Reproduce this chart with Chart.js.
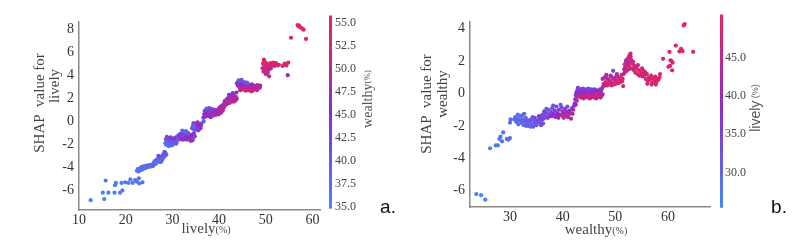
<!DOCTYPE html>
<html lang="en">
<head>
<meta charset="UTF-8" />
<title>SHAP dependence plots</title>
<script src="https://cdn.jsdelivr.net/npm/chart.js"></script>
<style>
  body { margin: 0; background: #fff; }
  .wrap { position: relative; width: 792px; height: 241px; }
  .panel { position: absolute; top: 0; width: 396px; height: 241px; }
</style>
</head>
<body>
<div class="wrap">
  <div class="panel" style="left:0"><canvas id="chartA" width="396" height="241"></canvas></div>
  <div class="panel" style="left:396px"><canvas id="chartB" width="396" height="241"></canvas></div>
</div>
<script>
// ---- panel a: lively (%) vs SHAP value, coloured by wealthy (%) ----
const aLively = [
  12.5,15.1,15.4,15.7,16.3,17.6,17.7,17.9,18.8,19.1,19.3,19.9,20.6,21.0,21.5,22.0,22.4,22.8,22.9,23.6,
  22.4,22.6,22.8,23.0,23.1,23.3,23.5,23.6,23.8,24.0,24.1,24.3,24.5,24.6,24.8,25.0,25.2,25.4,25.6,25.8,26.1,26.5,
  26.0,26.2,26.4,26.6,26.8,26.9,27.1,27.3,27.4,27.6,27.8,27.9,28.1,28.2,28.4,28.5,28.7,27.0,27.7,28.3,
  28.5,28.6,28.7,28.8,28.9,29.0,29.1,29.2,29.3,29.4,29.5,29.6,29.7,29.8,29.9,30.0,30.1,30.2,30.3,30.4,30.5,30.6,30.7,30.8,28.8,29.2,29.6,30.0,30.4,30.9,
  31.0,31.2,31.4,31.6,31.8,32.0,32.2,32.4,32.6,32.8,33.0,33.2,33.4,33.6,33.8,34.0,34.2,34.4,34.6,34.8,31.3,31.9,32.5,33.1,33.7,34.3,32.1,32.9,33.5,34.1,31.7,33.3,32.3,34.5,33.9,
  34.2,34.4,34.6,34.7,34.9,35.0,35.2,35.3,35.5,35.6,35.8,35.9,36.1,34.5,34.8,35.1,35.4,35.7,36.0,36.2,34.6,35.5,
  36.6,36.8,36.9,37.1,37.2,37.4,37.5,37.7,37.8,38.0,38.1,38.3,38.4,38.6,38.7,38.9,39.0,39.2,39.3,39.5,37.0,37.6,38.2,38.8,39.4,37.3,37.9,38.5,39.1,36.7,
  39.5,39.7,39.8,40.0,40.1,40.3,40.4,40.6,40.7,40.9,41.0,39.9,40.2,40.5,40.8,
  41.0,41.2,41.4,41.6,41.8,42.0,42.2,42.4,42.6,42.8,43.0,43.2,43.4,43.6,43.8,41.1,41.5,41.9,42.3,42.7,43.1,43.5,42.1,42.9,43.7,
  43.8,44.0,44.1,44.3,44.4,44.6,44.7,44.9,45.0,45.2,45.3,45.5,45.6,45.8,45.9,46.1,46.2,46.4,46.5,46.7,46.8,47.0,47.1,47.3,47.4,47.6,47.8,48.0,48.2,48.4,48.6,48.8,
  44.2,44.8,45.4,46.0,46.6,47.2,44.5,45.1,45.7,46.3,46.9,47.5,48.1,48.7,
  49.3,49.4,49.5,49.6,49.7,49.8,49.9,50.0,50.1,50.2,50.3,50.4,50.5,50.6,50.8,51.0,51.2,51.4,51.6,51.8,52.0,52.2,52.5,52.8,53.6,54.0,54.4,54.8,54.7,50.7,49.6,50.0,51.1,
  55.4,56.8,57.1,57.4,57.8,58.1,58.6,57.0
];
const aShap = [
  -6.85,-6.2,-6.75,-5.15,-6.2,-6.2,-5.55,-5.35,-6.2,-5.35,-6.0,-5.3,-5.35,-5.05,-5.35,-5.1,-5.25,-4.95,-5.4,-5.3,
  -4.3,-4.15,-4.35,-4.1,-4.25,-4.0,-4.2,-3.95,-4.05,-3.9,-4.1,-3.95,-3.85,-4.0,-3.9,-3.8,-3.95,-3.85,-3.75,-3.9,-3.7,-3.65,
  -3.6,-3.45,-3.7,-3.35,-3.5,-3.25,-3.4,-3.2,-3.55,-3.1,-3.3,-2.95,-3.15,-2.8,-3.0,-2.75,-2.9,-3.0,-3.45,-2.65,
  -1.9,-1.55,-2.05,-1.7,-1.85,-1.45,-2.0,-1.65,-1.8,-1.5,-1.95,-1.75,-1.6,-2.1,-1.7,-1.85,-1.55,-1.95,-1.75,-1.6,-1.9,-1.8,-1.7,-1.95,-1.35,-2.15,-1.4,-2.05,-1.45,-1.85,
  -1.3,-1.45,-1.2,-1.5,-1.25,-1.4,-1.15,-1.35,-1.5,-1.2,-1.3,-1.45,-1.1,-1.35,-1.25,-1.5,-1.15,-1.4,-1.05,-1.3,-1.6,-1.55,-1.0,-1.6,-1.55,-1.65,-0.8,-0.85,-1.4,-1.2,-1.1,-1.0,-1.6,-1.45,-1.7,
  -0.6,-0.4,-0.7,-0.3,-0.55,-0.2,-0.45,-0.65,-0.3,-0.5,-0.25,-0.55,-0.4,-0.15,-0.75,-0.35,-0.1,-0.7,-0.6,-0.2,-0.45,-0.8,
  0.3,0.6,0.9,0.5,0.8,0.65,1.0,0.55,0.85,0.7,1.05,0.5,0.9,0.75,0.6,0.95,0.7,0.85,0.55,0.9,0.4,0.45,0.35,0.5,0.65,1.1,1.15,1.05,1.0,0.0,
  0.75,1.0,0.65,1.15,0.85,1.25,0.95,1.35,1.1,1.4,1.2,0.6,0.7,0.8,0.95,
  1.5,1.75,1.6,1.9,1.7,2.05,1.85,2.2,1.95,2.35,2.05,2.25,1.9,2.1,1.95,1.3,1.45,1.55,1.6,1.75,1.7,1.8,2.3,2.45,2.5,
  3.3,3.1,3.45,3.2,2.95,3.35,3.1,3.25,2.9,3.15,3.3,2.85,3.2,3.05,2.8,3.25,3.0,3.15,2.75,3.1,2.9,3.2,3.0,2.8,3.1,2.95,3.05,2.9,3.15,3.0,2.95,3.1,
  3.55,3.6,3.4,3.35,2.7,2.65,2.7,2.75,2.65,2.7,2.6,2.85,2.7,2.9,
  4.6,5.0,4.3,5.3,4.8,4.5,5.1,4.7,4.4,5.0,4.6,4.2,4.9,4.45,4.75,5.05,4.85,4.95,5.1,4.8,4.95,5.05,4.85,4.9,4.8,5.0,4.85,5.1,4.0,3.9,5.35,4.1,4.6,
  7.25,8.35,8.3,8.15,8.05,7.95,7.15,8.25
];
const aWealthy = [
  35.2,35.5,35.3,35.6,35.4,35.8,36.0,35.7,36.1,36.0,35.9,36.3,36.2,36.5,36.4,36.6,36.8,37.0,36.7,37.1,
  36.5,37.0,36.8,37.2,36.9,37.5,37.1,37.8,37.3,38.0,37.4,37.9,38.2,37.6,38.4,38.1,37.7,38.5,38.3,38.8,39.0,37.9,
  37.5,38.0,37.2,38.5,37.8,39.0,38.2,39.5,38.0,40.0,38.8,40.5,39.2,41.0,39.8,40.2,39.5,41.5,38.5,40.8,
  38.0,39.5,37.8,40.0,38.5,41.0,38.2,39.8,40.5,41.5,38.8,39.2,40.8,38.6,41.8,39.0,42.5,38.9,40.2,43.0,39.6,41.2,40.0,39.3,42.0,38.4,43.5,39.1,44.0,40.6,
  40.0,41.5,42.5,39.5,44.0,41.0,46.0,40.5,43.5,39.8,45.5,42.0,41.2,47.0,40.8,43.0,48.0,41.8,44.5,42.8,39.2,46.5,40.2,44.8,39.6,47.5,38.5,38.8,45.0,49.0,43.8,40.6,48.5,41.4,46.8,
  40.5,42.0,41.0,43.5,42.5,41.5,44.0,40.8,45.5,42.8,46.0,43.0,44.8,41.8,40.2,45.0,47.0,41.2,47.5,43.8,39.5,42.2,
  42.0,44.5,41.5,46.0,43.0,47.5,42.5,45.0,48.0,43.5,41.0,46.5,44.0,49.0,45.5,42.8,47.0,50.0,44.8,48.5,45.2,49.5,46.8,43.2,51.0,40.5,41.8,42.2,44.2,40.0,
  47.5,49.0,46.0,48.0,50.5,45.5,49.5,47.0,51.0,48.5,46.5,50.0,52.0,44.5,49.8,
  48.0,46.5,50.0,47.0,51.5,45.5,49.5,44.0,52.0,46.0,48.5,50.5,53.0,47.5,51.0,49.0,52.5,45.0,53.5,47.8,50.8,48.8,43.5,44.5,45.8,
  44.0,46.5,42.5,48.0,51.0,43.5,47.5,45.0,52.0,46.0,41.5,53.0,44.5,49.0,52.5,45.5,50.5,47.0,53.5,48.5,51.5,46.0,50.0,54.0,45.0,52.5,49.5,53.0,47.5,51.0,52.0,50.5,
  40.0,41.0,42.0,39.5,50.0,51.5,49.0,53.5,52.5,51.0,54.5,48.0,50.5,49.5,
  52.0,53.5,51.0,54.0,52.5,50.5,53.0,51.5,49.5,54.5,52.8,50.0,53.8,51.8,53.2,54.2,52.2,53.6,54.8,52.6,53.4,54.4,52.4,53.9,54.6,53.1,52.9,54.3,47.5,50.5,54.0,51.2,49.0,
  54.5,55.0,55.3,55.1,55.4,54.8,55.5,55.2
];

// ---- panel b: wealthy (%) vs SHAP value, coloured by lively (%) ----
const bWealthy = [
  23.6,24.5,25.3,
  26.2,27.3,27.7,28.0,28.2,28.7,29.4,29.7,30.0,30.0,30.1,28.5,
  30.8,31.0,31.2,31.4,31.6,31.8,32.0,32.2,32.4,32.6,32.8,33.0,33.2,33.4,33.6,33.8,34.0,34.2,34.4,34.6,
  34.8,35.0,35.2,35.4,35.6,35.8,36.0,36.2,36.4,36.6,31.5,32.3,33.1,33.9,34.7,35.5,36.3,32.7,34.3,35.9,
  36.2,36.5,36.8,37.0,37.3,37.5,37.8,38.0,38.3,38.5,38.8,39.0,39.3,39.5,39.8,40.0,40.3,40.5,40.8,41.0,
  41.3,41.5,41.8,42.0,42.2,37.2,37.9,38.6,39.2,39.9,40.6,41.2,41.9,38.2,39.6,40.9,36.9,38.9,40.2,41.6,
  42.3,42.4,42.5,42.5,42.6,42.7,42.8,42.8,42.9,43.0,
  43.1,43.3,43.5,43.7,43.9,44.1,44.3,44.5,44.7,44.9,45.1,45.3,45.5,45.7,45.9,46.1,46.3,46.5,46.7,46.9,47.1,47.3,47.5,
  43.2,43.4,43.6,43.8,44.0,44.2,44.4,44.6,44.8,45.0,45.2,45.4,45.6,45.8,46.0,46.2,46.4,46.6,46.8,47.0,47.2,47.4,47.6,44.3,45.6,46.9,
  47.6,47.8,48.0,48.2,48.4,48.6,48.8,49.0,49.2,49.4,49.6,49.8,50.0,50.2,50.4,50.6,50.8,51.0,51.2,51.4,
  47.7,48.1,48.5,48.9,49.3,49.7,50.1,50.5,50.9,51.3,49.6,51.5,48.3,50.3,49.1,
  51.6,51.7,51.8,51.9,52.0,52.1,52.2,52.3,52.4,52.5,52.6,52.7,52.8,52.9,53.0,53.2,53.4,53.6,53.8,52.2,52.6,53.1,53.5,51.8,52.9,
  53.6,53.8,54.0,54.2,54.4,54.6,54.8,55.0,55.2,55.4,55.6,55.8,56.0,56.2,56.4,56.6,56.8,57.0,57.2,57.4,57.6,57.8,58.0,58.2,58.4,
  54.3,55.1,56.1,56.9,57.7,58.5,55.7,
  59.1,60.3,60.7,60.9,60.5,60.1,60.4,60.8,61.5,62.2,62.5,62.8,64.8,63.0,63.2
];
const bShap = [
  -6.2,-6.27,-6.55,
  -3.38,-3.2,-3.2,-2.8,-2.66,-2.4,-2.8,-2.85,-2.75,-1.8,-1.6,-2.95,
  -1.6,-1.45,-1.75,-1.55,-1.9,-1.65,-1.4,-1.8,-1.6,-1.95,-1.7,-1.5,-1.85,-1.65,-2.0,-1.75,-1.6,-1.9,-2.05,-1.7,
  -1.85,-1.95,-1.65,-1.8,-1.55,-1.75,-1.4,-1.6,-1.3,-1.5,-1.3,-1.35,-2.0,-2.05,-1.5,-1.4,-1.85,-1.25,-1.45,-1.95,
  -1.3,-1.1,-1.45,-1.2,-1.0,-1.35,-1.15,-0.9,-1.25,-1.05,-0.8,-1.2,-1.0,-1.3,-0.85,-1.1,-1.25,-0.95,-1.15,-1.45,
  -1.05,-1.2,-0.9,-1.0,-0.75,-1.5,-1.4,-1.45,-1.5,-1.35,-1.4,-1.3,-1.25,-0.75,-0.7,-0.8,-0.95,-1.35,-1.5,-1.55,
  -0.6,-0.35,-0.7,-0.1,0.05,-0.45,0.2,-0.2,0.35,0.1,
  0.3,0.15,0.25,0.1,0.3,0.2,0.05,0.25,0.15,0.3,0.1,0.2,0.25,0.05,0.15,0.25,0.1,0.2,0.05,0.15,0.25,0.1,0.3,
  -0.1,-0.25,-0.05,-0.2,-0.3,-0.1,-0.2,-0.05,-0.25,-0.15,-0.3,-0.05,-0.2,-0.1,-0.25,-0.15,-0.3,-0.05,-0.2,-0.1,-0.25,-0.15,-0.05,0.0,-0.02,0.02,
  0.9,0.6,1.0,0.7,0.95,0.55,0.85,0.75,1.05,0.6,0.9,0.7,1.0,0.8,1.1,0.65,0.95,0.8,1.15,0.9,
  0.45,0.5,0.5,0.6,0.5,0.55,0.6,0.65,0.7,0.75,1.4,0.46,1.15,1.2,1.1,
  1.2,1.5,1.8,1.6,2.0,1.75,2.1,1.85,1.95,2.2,1.7,2.35,1.9,2.47,2.1,1.85,1.95,1.7,1.6,1.4,1.5,1.55,1.45,1.3,2.3,
  1.5,1.3,1.6,1.2,1.45,1.1,1.35,1.25,1.05,1.4,1.15,0.9,1.2,0.75,1.0,0.85,1.1,0.65,0.95,0.8,1.05,0.7,0.9,0.85,1.0,
  1.75,1.55,0.6,0.55,0.55,1.2,1.3,
  2.14,2.57,2.0,1.9,2.05,1.65,1.7,1.43,2.96,2.6,2.76,2.62,2.57,4.2,4.3
];
const bLively = [
  25.8,26.0,26.3,
  26.8,27.2,27.0,27.6,27.4,28.0,28.3,28.1,28.5,28.8,29.0,27.8,
  29.0,28.5,29.5,30.0,28.8,30.5,29.2,31.0,29.8,30.2,31.5,29.6,30.8,32.0,30.4,31.2,32.5,30.6,31.8,33.0,
  32.2,31.4,33.5,32.8,34.0,31.6,33.2,34.5,33.8,35.0,28.6,29.4,30.1,30.9,35.5,36.5,32.4,29.9,31.1,33.6,
  33.5,34.5,32.8,35.0,33.2,36.0,34.0,32.5,37.0,35.5,33.8,38.0,36.5,39.0,34.8,40.0,38.5,37.5,41.0,46.0,
  39.5,42.0,38.8,40.5,37.2,36.2,38.2,39.8,41.5,42.5,43.5,44.0,41.8,31.5,32.2,33.0,31.8,40.8,45.0,43.0,
  38.5,40.0,41.5,37.5,36.8,42.5,36.0,43.5,35.5,41.0,
  34.5,36.0,35.0,37.5,33.8,36.8,38.5,35.5,37.0,34.2,39.0,36.2,35.8,39.5,37.8,36.5,40.0,38.0,40.5,39.2,37.2,41.0,36.0,
  43.0,45.5,42.0,46.5,44.0,47.0,45.0,43.5,46.0,48.0,44.5,42.5,47.5,45.8,44.8,46.8,43.8,48.5,45.2,47.2,44.2,46.2,42.8,41.5,40.8,41.2,
  43.0,45.5,42.5,46.5,44.0,47.0,45.0,43.5,46.0,48.0,44.5,47.5,43.8,46.8,45.2,48.5,44.8,47.8,46.2,48.2,
  46.0,47.2,45.8,47.6,46.6,48.8,47.0,48.4,46.4,47.4,35.0,48.5,41.5,42.5,40.5,
  45.0,44.0,43.5,46.0,42.5,45.5,44.5,47.0,43.0,46.5,45.8,47.5,44.2,48.0,46.2,47.2,48.2,46.8,47.8,45.2,46.4,47.4,48.4,45.6,44.8,
  47.0,48.0,46.5,47.5,48.5,46.0,47.8,48.8,46.8,47.2,48.2,46.4,47.6,48.6,46.2,47.4,48.4,46.6,47.9,48.9,47.1,48.1,46.9,47.3,48.7,
  45.5,46.3,47.7,48.3,47.5,49.0,45.8,
  47.5,48.2,46.8,48.8,47.2,48.5,46.5,49.0,48.0,47.8,49.2,48.6,49.5,48.9,49.4
];

const aXTicks = [10, 20, 30, 40, 50, 60];
const aYTicks = [-6, -4, -2, 0, 2, 4, 6, 8];
const aBarTicks = [35, 37.5, 40, 42.5, 45, 47.5, 50, 52.5, 55];
const bXTicks = [30, 40, 50, 60];
const bYTicks = [-6, -4, -2, 0, 2, 4];
const bBarTicks = [30, 35, 40, 45];

// blue -> purple -> red, like shap's red_blue map
const stops = [[70, 135, 246], [138, 44, 208], [236, 36, 84]];
function colourAt(t) {
  t = Math.max(0, Math.min(1, t));
  const i = t < 0.5 ? 0 : 1;
  const f = (t - i * 0.5) * 2;
  const a = stops[i], b = stops[i + 1];
  return `rgb(${a.map((v, k) => Math.round(v + (b[k] - v) * f)).join(',')})`;
}

function mixedText(ctx, parts, x, y) {
  // parts: [text, font]; drawn centred on x
  let w = 0;
  parts.forEach(p => { ctx.font = p[1]; w += ctx.measureText(p[0]).width; });
  let cx = x - w / 2;
  ctx.textAlign = 'left';
  parts.forEach(p => { ctx.font = p[1]; ctx.fillText(p[0], cx, y); cx += ctx.measureText(p[0]).width; });
}

const decor = {
  id: 'decor',
  afterDraw(chart, args, o) {
    const ctx = chart.ctx, cb = chart.scales.cb;
    const top = cb.getPixelForValue(o.cMax), bot = cb.getPixelForValue(o.cMin);
    const g = ctx.createLinearGradient(0, bot, 0, top);
    for (let i = 0; i <= 10; i++) g.addColorStop(i / 10, colourAt(i / 10));
    ctx.save();
    ctx.fillStyle = g;
    ctx.fillRect(cb.left + o.barGap, top, 3, bot - top);

    // y axis title, two lines
    ctx.fillStyle = '#444';
    ctx.textBaseline = 'middle';
    o.yTitle.forEach(t => {
      ctx.save();
      ctx.translate(t.x, t.y);
      ctx.rotate(-Math.PI / 2);
      mixedText(ctx, [[t.text, '15px "Liberation Serif"']], 0, 0);
      ctx.restore();
    });

    // x axis title
    ctx.textBaseline = 'alphabetic';
    mixedText(ctx, [[o.xTitle, '15px "Liberation Serif"'], ['(%)', '10px "Liberation Serif"']], o.xTitleX, o.xTitleY);

    // colour bar title
    ctx.save();
    ctx.fillStyle = '#555';
    ctx.translate(o.barTitleX, o.barTitleY);
    ctx.rotate(-Math.PI / 2);
    ctx.textBaseline = 'middle';
    mixedText(ctx, [[o.barTitle, '14px ' + o.barFont], [o.barUnit, '9px ' + o.barFont]], 0, 0);
    ctx.restore();

    // panel letter
    ctx.fillStyle = '#111';
    ctx.textBaseline = 'alphabetic';
    mixedText(ctx, [[o.letter, '19px "Liberation Sans"']], o.letterX, o.letterY);
    ctx.restore();
  }
};

function makeChart(id, p) {
  const pts = p.xs.map((x, i) => ({ x: x, y: p.ys[i] }));
  const cols = p.cs.map(c => colourAt((c - p.cMin) / (p.cMax - p.cMin)));
  const tickFont = { family: '"Liberation Serif"', size: 14 };
  return new Chart(document.getElementById(id), {
    type: 'scatter',
    data: {
      datasets: [{
        data: pts,
        pointBackgroundColor: cols,
        pointBorderWidth: 0,
        pointRadius: 2.1
      }]
    },
    options: {
      responsive: false,
      animation: false,
      events: [],
      layout: { padding: { top: p.top, left: 0, right: 0, bottom: 0 } },
      plugins: {
        legend: { display: false },
        tooltip: { enabled: false },
        decor: p.decor
      },
      scales: {
        x: {
          type: 'linear', min: p.xMin, max: p.xMax,
          afterFit: s => { s.height = p.xH; },
          afterBuildTicks: s => { s.ticks = p.xTicks.map(v => ({ value: v })); },
          ticks: { font: tickFont, color: '#333', padding: 2, maxRotation: 0 },
          grid: { display: false, drawTicks: false },
          border: { color: '#8a8a8a', width: 1.5 }
        },
        y: {
          type: 'linear', min: p.yMin, max: p.yMax,
          afterFit: s => { s.width = p.yW; },
          afterBuildTicks: s => { s.ticks = p.yTicks.map(v => ({ value: v })); },
          ticks: { font: tickFont, color: '#333', padding: 5 },
          grid: { display: false, drawTicks: false },
          border: { color: '#8a8a8a', width: 1.5 }
        },
        cb: {
          type: 'linear', position: 'right', min: p.bMin, max: p.bMax,
          afterFit: s => { s.width = p.bW; },
          afterBuildTicks: s => { s.ticks = p.barTicks.map(v => ({ value: v })); },
          ticks: {
            font: { family: '"Liberation Serif"', size: 12 }, color: '#444', padding: 15,
            callback: v => Number(v).toFixed(1)
          },
          grid: { display: false, drawTicks: false },
          border: { display: false }
        }
      }
    },
    plugins: [decor]
  });
}

makeChart('chartA', {
  xs: aLively, ys: aShap, cs: aWealthy,
  xMin: 10, xMax: 61.6, yMin: -7.7, yMax: 8.6, bMin: 34.65, bMax: 55.07,
  cMin: 34.8, cMax: 55.8,
  xTicks: aXTicks, yTicks: aYTicks, barTicks: aBarTicks,
  top: 15, xH: 31, yW: 79, bW: 76,
  decor: {
    cMin: 34.8, cMax: 55.8, barGap: 9,
    yTitle: [{ text: 'SHAP  value for', x: 40, y: 103 }, { text: 'lively', x: 55, y: 86 }],
    xTitle: 'lively', xTitleX: 206, xTitleY: 233,
    barTitle: 'wealthy', barUnit: '(%)', barFont: '"Liberation Serif"', barTitleX: 368, barTitleY: 99,
    letter: 'a.', letterX: 388, letterY: 213
  }
});

makeChart('chartB', {
  xs: bWealthy, ys: bShap, cs: bLively,
  xMin: 22.4, xMax: 68, yMin: -7.0, yMax: 4.4, bMin: 25.5, bMax: 49.6,
  cMin: 25.4, cMax: 50.6,
  xTicks: bXTicks, yTicks: bYTicks, barTicks: bBarTicks,
  top: 12, xH: 34, yW: 74, bW: 82,
  decor: {
    cMin: 25.4, cMax: 50.6, barGap: 10,
    yTitle: [{ text: 'SHAP  value for', x: 31, y: 104 }, { text: 'wealthy', x: 47, y: 94 }],
    xTitle: 'wealthy', xTitleX: 200, xTitleY: 234,
    barTitle: 'lively', barUnit: ' (%)', barFont: '"Liberation Sans"', barTitleX: 360, barTitleY: 108,
    letter: 'b.', letterX: 383, letterY: 213
  }
});
</script>
</body>
</html>
